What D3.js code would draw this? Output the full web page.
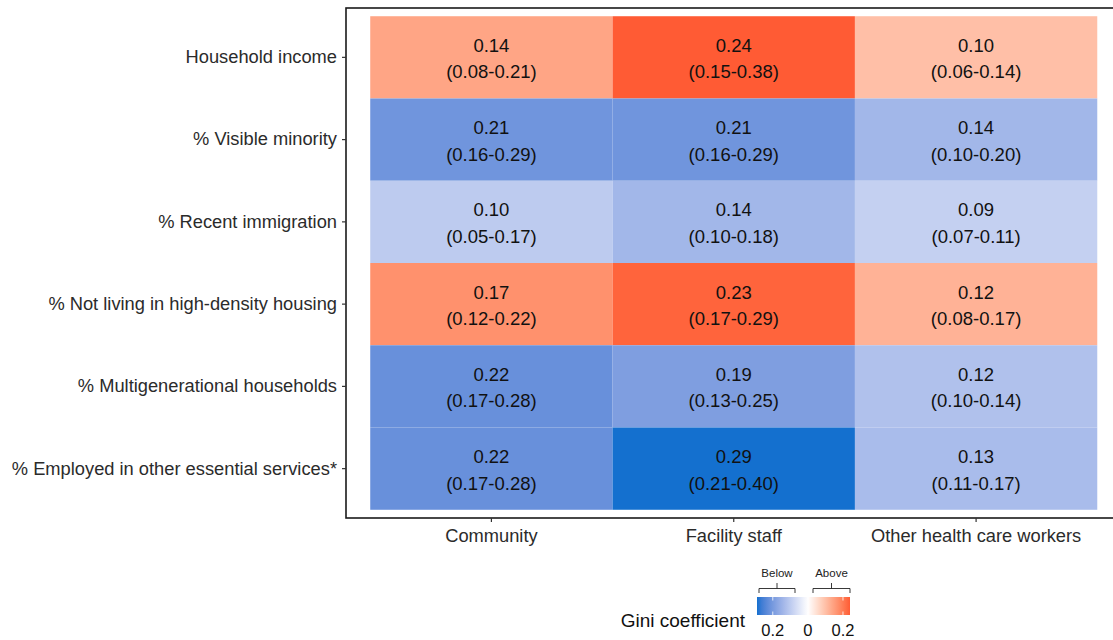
<!DOCTYPE html>
<html>
<head>
<meta charset="utf-8">
<script src="https://cdn.jsdelivr.net/npm/d3@7"></script>
<style>
  html, body { margin: 0; padding: 0; background: #fff; }
  text { font-family: "Liberation Sans", Arial, sans-serif; }
</style>
</head>
<body>
<svg id="chart" width="1113" height="640"></svg>
<script>
// Row variables (top to bottom) and exposure groups (left to right)
const variables = [
  "Household income",
  "% Visible minority",
  "% Recent immigration",
  "% Not living in high-density housing",
  "% Multigenerational households",
  "% Employed in other essential services*"
];
const groups = ["Community", "Facility staff", "Other health care workers"];

// Direction of concentration per variable: +1 = above, -1 = below
const direction = [1, -1, -1, 1, -1, -1];

// Gini coefficients and 95% intervals, one array per group
const giniCommunity = [0.14, 0.21, 0.10, 0.17, 0.22, 0.22];
const lowCommunity  = [0.08, 0.16, 0.05, 0.12, 0.17, 0.17];
const highCommunity = [0.21, 0.29, 0.17, 0.22, 0.28, 0.28];

const giniFacility = [0.24, 0.21, 0.14, 0.23, 0.19, 0.29];
const lowFacility  = [0.15, 0.16, 0.10, 0.17, 0.13, 0.21];
const highFacility = [0.38, 0.29, 0.18, 0.29, 0.25, 0.40];

const giniOther = [0.10, 0.14, 0.09, 0.12, 0.12, 0.13];
const lowOther  = [0.06, 0.10, 0.07, 0.08, 0.10, 0.11];
const highOther = [0.14, 0.20, 0.11, 0.17, 0.14, 0.17];

const legendTicks = [-0.2, 0, 0.2];

const groupData = [
  [giniCommunity, lowCommunity, highCommunity],
  [giniFacility, lowFacility, highFacility],
  [giniOther, lowOther, highOther]
];

const cells = [];
groups.forEach((g, gi) => {
  const [gini, lo, hi] = groupData[gi];
  variables.forEach((v, vi) => {
    cells.push({
      group: g, variable: v,
      gini: gini[vi], lo: lo[vi], hi: hi[vi],
      signed: direction[vi] * gini[vi]
    });
  });
});

const svg = d3.select("#chart");
const panel = { left: 346, top: 8, right: 1121.5, bottom: 518 };

const x = d3.scaleBand().domain(groups)
  .range([panel.left, panel.right]).paddingInner(0).paddingOuter(0.1);
const y = d3.scaleBand().domain(variables)
  .range([panel.top, panel.bottom]).paddingInner(0).paddingOuter(0.1);

// Diverging fill: white at zero, scaled by the largest absolute value
const signedExtent = d3.extent(cells, d => d.signed);
const maxAbs = d3.max(cells, d => Math.abs(d.signed));
const lowColor = "#1470cf", highColor = "#ff1f00";
const fill = v => v < 0
  ? d3.interpolateLab("#ffffff", lowColor)(-v / maxAbs)
  : d3.interpolateLab("#ffffff", highColor)(v / maxAbs);

// Tiles
svg.append("g").selectAll("rect").data(cells).join("rect")
  .attr("x", d => x(d.group))
  .attr("y", d => y(d.variable))
  .attr("width", x.bandwidth())
  .attr("height", y.bandwidth())
  .attr("fill", d => fill(d.signed));

// Tile labels
const fmt = d3.format(".2f");
const labels = svg.append("g").selectAll("text").data(cells).join("text")
  .attr("text-anchor", "middle")
  .style("font-size", "18.5px")
  .attr("fill", "#111");
labels.append("tspan")
  .attr("x", d => x(d.group) + x.bandwidth() / 2)
  .attr("y", d => y(d.variable) + y.bandwidth() / 2 - 5.5)
  .text(d => fmt(d.gini));
labels.append("tspan")
  .attr("x", d => x(d.group) + x.bandwidth() / 2)
  .attr("y", d => y(d.variable) + y.bandwidth() / 2 + 21)
  .text(d => `(${fmt(d.lo)}-${fmt(d.hi)})`);

// Panel border
svg.append("rect")
  .attr("x", panel.left).attr("y", panel.top)
  .attr("width", panel.right - panel.left)
  .attr("height", panel.bottom - panel.top)
  .attr("fill", "none").attr("stroke", "#1a1a1a").attr("stroke-width", 1.6);

// Axes
const xAxis = svg.append("g")
  .attr("transform", `translate(0,${panel.bottom})`)
  .call(d3.axisBottom(x).tickSize(4).tickPadding(7));
const yAxis = svg.append("g")
  .attr("transform", `translate(${panel.left},0)`)
  .call(d3.axisLeft(y).tickSize(4).tickPadding(5));
[xAxis, yAxis].forEach(a => {
  a.select(".domain").remove();
  a.selectAll(".tick line").attr("stroke", "#333").attr("stroke-width", 1.2);
  a.selectAll(".tick text")
    .style("font-size", "18.3px")
    .attr("fill", "#2b2b2b")
    .style("font-family", "'Liberation Sans', Arial, sans-serif");
});

// Legend colour bar
const legend = svg.append("g");
const barX0 = 757, barX1 = 850, barY = 597, barH = 18;
const lx = d3.scaleLinear().domain(signedExtent).range([barX0, barX1]);
const grad = svg.append("defs").append("linearGradient")
  .attr("id", "giniGrad").attr("x1", "0%").attr("x2", "100%");
d3.range(0, 1.0001, 0.05).forEach(t => {
  const v = signedExtent[0] + t * (signedExtent[1] - signedExtent[0]);
  grad.append("stop").attr("offset", `${t * 100}%`).attr("stop-color", fill(v));
});
legend.append("rect")
  .attr("x", barX0).attr("y", barY)
  .attr("width", barX1 - barX0).attr("height", barH)
  .attr("fill", "url(#giniGrad)");
legendTicks.forEach(t => {
  [[barY, barY + 3.5], [barY + barH - 3.5, barY + barH]].forEach(([y1, y2]) => {
    legend.append("line")
      .attr("x1", lx(t)).attr("x2", lx(t))
      .attr("y1", y1).attr("y2", y2)
      .attr("stroke", "#fff").attr("stroke-width", 0.8);
  });
});
legend.selectAll("text.tl").data(legendTicks).join("text")
  .attr("class", "tl")
  .attr("x", d => lx(d)).attr("y", 636)
  .attr("text-anchor", "middle")
  .style("font-size", "16.5px").attr("fill", "#111")
  .text(d => d3.format(".1~f")(Math.abs(d)));
legend.append("text")
  .attr("x", 745).attr("y", 627)
  .attr("text-anchor", "end")
  .style("font-size", "19px").attr("fill", "#111")
  .text("Gini coefficient");

// Brackets marking the below / above halves
const brackets = [
  { label: "Below", x0: 759, x1: 795 },
  { label: "Above", x0: 813, x1: 850 }
];
brackets.forEach(b => {
  const mid = (b.x0 + b.x1) / 2;
  legend.append("path")
    .attr("d", `M${b.x0},593 V588.5 H${b.x1} V593 M${mid},588.5 V583`)
    .attr("fill", "none").attr("stroke", "#222").attr("stroke-width", 0.9);
  legend.append("text")
    .attr("x", mid).attr("y", 577)
    .attr("text-anchor", "middle")
    .style("font-size", "11.5px").attr("fill", "#222")
    .text(b.label);
});
</script>
</body>
</html>
